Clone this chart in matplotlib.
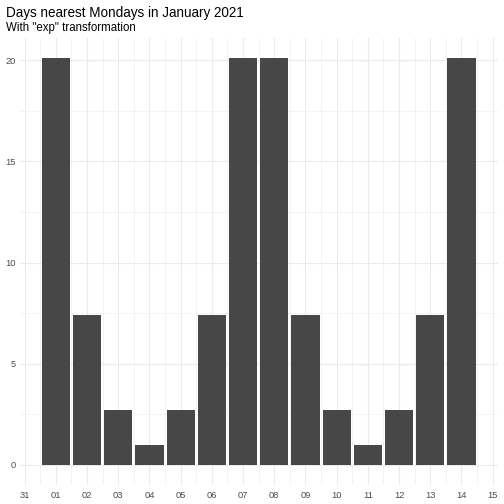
import matplotlib
matplotlib.use("Agg")
import matplotlib.pyplot as plt
import matplotlib.dates as mdates
import datetime as dt

plt.rcParams["font.family"] = ["Liberation Sans", "DejaVu Sans"]

# days of January 2021 and their exp(distance to nearest Monday) values
days = [dt.date(2021, 1, d) for d in range(1, 15)]
values = [20.09, 7.39, 2.72, 1.0, 2.72, 7.39, 20.09,
          20.09, 7.39, 2.72, 1.0, 2.72, 7.39, 20.09]
y_ticks = [0, 5, 10, 15, 20]
y_minor = [2.5, 7.5, 12.5, 17.5]

fig = plt.figure(figsize=(7, 7), dpi=72)
ax = fig.add_axes([20 / 504, 1 - 485 / 504, 478 / 504, 447 / 504])

x = mdates.date2num(days)
ax.bar(x, values, width=0.9, color="#474747", zorder=2)

start = mdates.date2num(dt.date(2021, 1, 1))
ax.xaxis.set_major_locator(mdates.DayLocator())
ax.xaxis.set_major_formatter(mdates.DateFormatter("%d"))
ax.set_xticks([start - 0.5 + i for i in range(15)], minor=True)
ax.set_yticks(y_ticks)
ax.set_yticks(y_minor, minor=True)

# limits after the ticks so they are not widened
ax.set_xlim(start - 1.15, start + 14.17)
ax.set_ylim(-1.0, 21.1)

ax.grid(which="major", color="#EBEBEB", linewidth=1.1, zorder=0)
ax.grid(which="minor", color="#EBEBEB", linewidth=0.55, zorder=0)
ax.set_axisbelow(True)
for s in ax.spines.values():
    s.set_visible(False)
ax.tick_params(which="both", length=0, labelsize=9.2, labelcolor="#4D4D4D")
ax.tick_params(axis="x", pad=5.5)
ax.tick_params(axis="y", pad=4.5)

fig.text(6 / 504, 1 - 16.5 / 504, "Days nearest Mondays in January 2021",
         fontsize=13.5, color="black", va="baseline")
fig.text(6 / 504, 1 - 30.5 / 504, 'With "exp" transformation',
         fontsize=11.5, color="black", va="baseline")

fig.savefig("out.png", dpi=72)
